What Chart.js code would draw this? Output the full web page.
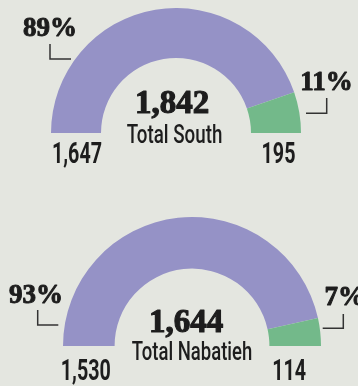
<!DOCTYPE html>
<html>
<head>
<meta charset="utf-8">
<script src="https://cdn.jsdelivr.net/npm/chart.js@4/dist/chart.umd.min.js"></script>
<style>
  html, body { margin: 0; padding: 0; background: #e4e6e0; }
  body { width: 358px; height: 386px; position: relative; overflow: hidden; }
  .box { position: absolute; left: 0; width: 358px; height: 193px; }
</style>
</head>
<body>
<div class="box" style="top:0"><canvas id="south"></canvas></div>
<div class="box" style="top:193px"><canvas id="nabatieh"></canvas></div>
<script>
// Two half-doughnuts: each region split into a large share and a small share
const regionNames = ['Total South', 'Total Nabatieh'];
const shareLabels = ['Share A', 'Share B'];
const southValues = [1647, 195];
const nabatiehValues = [1530, 114];
const shareColors = ['#9592c6', '#73b98a'];

const INK = '#1d1d1d';
const SERIF = '"Liberation Serif", "DejaVu Serif", serif';
const SANS = 'Roboto, "Liberation Sans", sans-serif';

const fmt = n => n.toLocaleString('en-US');

// heavy display serif: bold face plus a thin outline to darken the strokes
function serifText(ctx, text, x, y, size) {
  ctx.save();
  ctx.font = `bold ${size}px ${SERIF}`;
  ctx.fillStyle = INK;
  ctx.strokeStyle = INK;
  ctx.lineWidth = size * 0.035;
  ctx.lineJoin = 'round';
  ctx.textAlign = 'center';
  ctx.textBaseline = 'alphabetic';
  ctx.fillText(text, x, y);
  ctx.strokeText(text, x, y);
  ctx.restore();
}

// condensed sans, squeezed horizontally
function narrowText(ctx, text, x, y, size, squeeze, weight) {
  ctx.save();
  ctx.font = `${weight} ${size}px ${SANS}`;
  ctx.fillStyle = INK;
  ctx.textAlign = 'center';
  ctx.textBaseline = 'alphabetic';
  ctx.translate(x, y);
  ctx.scale(squeeze, 1);
  ctx.fillText(text, 0, 0);
  ctx.restore();
}

function bracket(ctx, pts) {
  ctx.save();
  ctx.strokeStyle = '#333';
  ctx.lineWidth = 1.5;
  ctx.beginPath();
  ctx.moveTo(pts[0][0], pts[0][1]);
  for (let i = 1; i < pts.length; i++) ctx.lineTo(pts[i][0], pts[i][1]);
  ctx.stroke();
  ctx.restore();
}

// Annotations drawn around the arc centre (offsets in px from the centre)
const gaugeLabels = {
  id: 'gaugeLabels',
  afterDatasetsDraw(chart, args, o) {
    const ctx = chart.ctx;
    const arc = chart.getDatasetMeta(0).data[0];
    const cx = arc.x, cy = arc.y;
    const mid = (arc.outerRadius + arc.innerRadius) / 2;
    const values = chart.data.datasets[0].data;
    const total = values.reduce((a, b) => a + b, 0);
    const pct = values.map(v => Math.round(v / total * 100) + '%');

    // total in the middle
    serifText(ctx, fmt(total), cx + o.totalDx, cy + o.totalDy, 33);
    narrowText(ctx, o.title, cx + o.titleDx, cy + o.titleDy, 25, o.titleSqueeze, 500);

    // raw values under each end of the arc
    narrowText(ctx, fmt(values[0]), cx - mid + o.valDx[0], cy + o.valDy, 29, 0.68, 700);
    narrowText(ctx, fmt(values[1]), cx + mid + o.valDx[1], cy + o.valDy, 29, 0.68, 700);

    // percentages with their corner marks
    serifText(ctx, pct[0], cx + o.pctL[0], cy + o.pctL[1], 27);
    serifText(ctx, pct[1], cx + o.pctR[0], cy + o.pctR[1], 27);
    bracket(ctx, o.brL.map(p => [cx + p[0], cy + p[1]]));
    bracket(ctx, o.brR.map(p => [cx + p[0], cy + p[1]]));
  }
};

function makeGauge(id, values, padding, cutout, labelOpts) {
  return new Chart(document.getElementById(id), {
    type: 'doughnut',
    data: {
      labels: shareLabels,
      datasets: [{
        data: values,
        backgroundColor: shareColors,
        borderWidth: 0,
        hoverOffset: 0
      }]
    },
    options: {
      responsive: true,
      maintainAspectRatio: false,
      animation: false,
      rotation: -90,
      circumference: 180,
      cutout: cutout,
      layout: { padding: padding },
      events: [],
      plugins: {
        legend: { display: false },
        tooltip: { enabled: false },
        gaugeLabels: labelOpts
      }
    },
    plugins: [gaugeLabels]
  });
}

makeGauge('south', southValues,
  { left: 51, right: 57, top: 8, bottom: 60 }, '60%',
  {
    title: regionNames[0], titleDx: -1.5, titleDy: 10, titleSqueeze: 0.75,
    totalDx: -4, totalDy: -20,
    valDx: [1, 2.5], valDy: 30,
    pctL: [-126, -97], pctR: [150.5, -43],
    brL: [[-126, -89], [-126, -74], [-105, -74]],
    brR: [[130, -19.7], [150.7, -19.7], [150.7, -35]]
  });

makeGauge('nabatieh', nabatiehValues,
  { left: 63, right: 37, top: 24, bottom: 40 }, '60%',
  {
    title: regionNames[1], titleDx: 0, titleDy: 14, titleSqueeze: 0.74,
    totalDx: -6, totalDy: -14.3,
    valDx: [-3, -6], valDy: 34,
    pctL: [-156, -42.7], pctR: [152.7, -41],
    brL: [[-154.3, -36], [-154.3, -21], [-133.7, -21]],
    brR: [[130.7, -17.7], [151.3, -17.7], [151.3, -32]]
  });
</script>
</body>
</html>
